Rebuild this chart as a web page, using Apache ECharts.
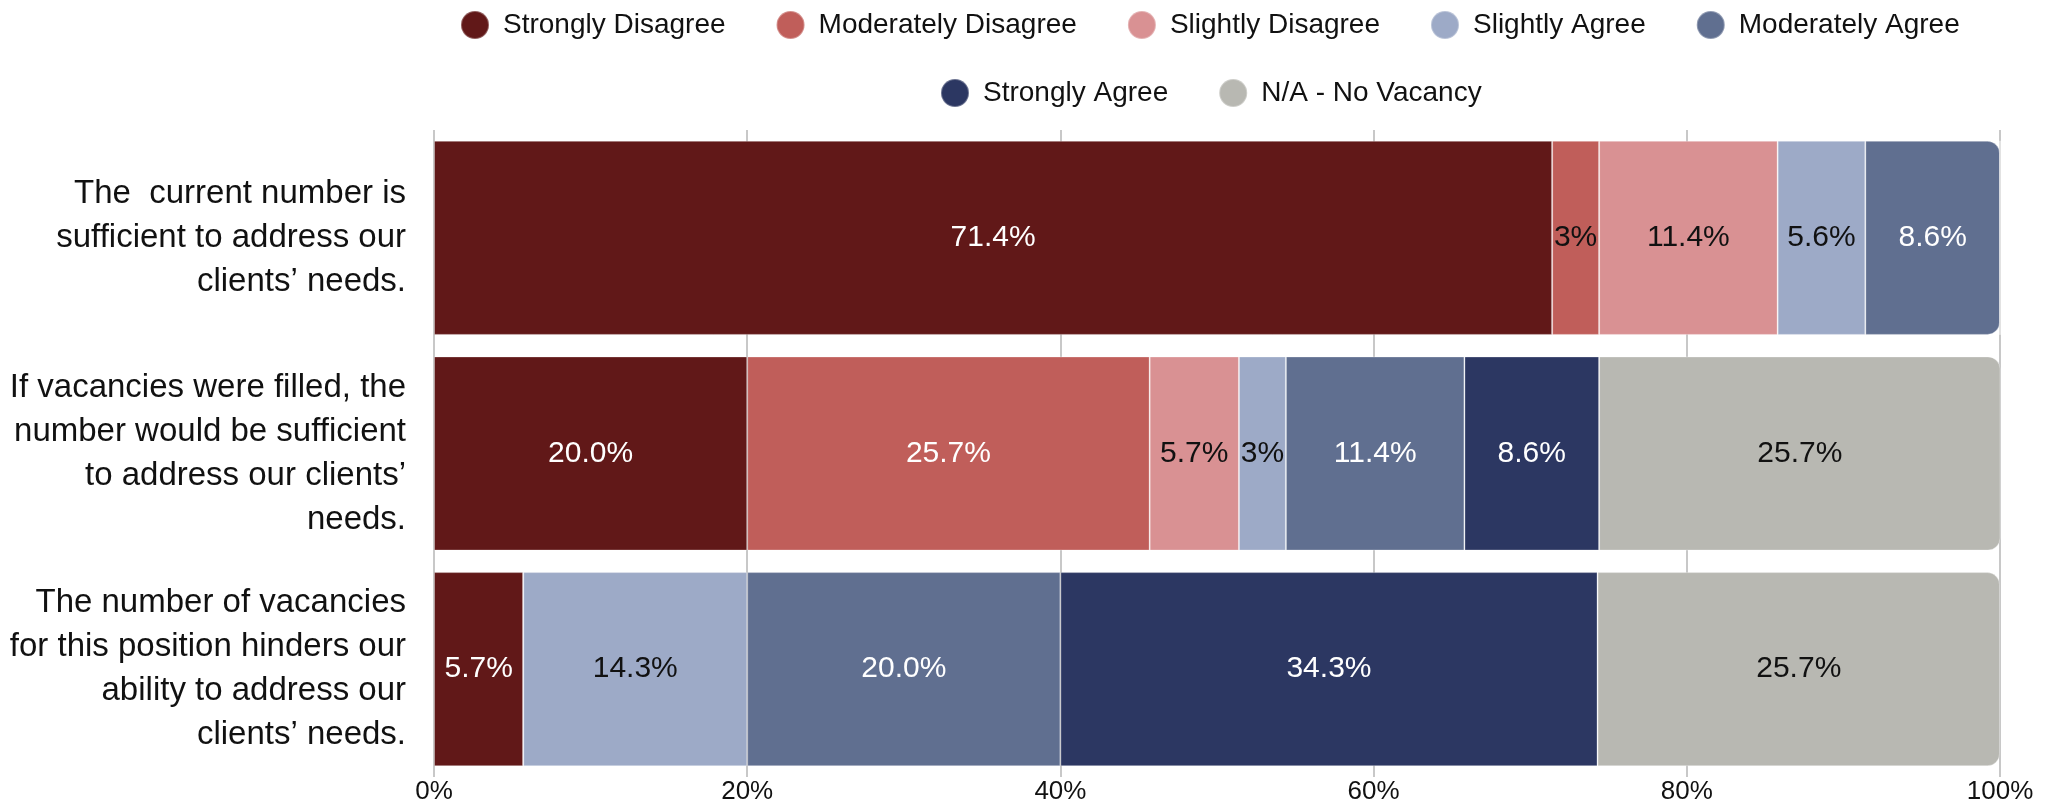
<!DOCTYPE html>
<html><head><meta charset="utf-8">
<script src="https://cdn.jsdelivr.net/npm/echarts@6/dist/echarts.min.js"></script>
<style>html,body{margin:0;padding:0;background:#fff}#c{width:2047px;height:806px}</style>
</head><body><div id="c"></div>
<script>
// ---- data ----
const categories = [
  'The  current number is\nsufficient to address our\nclients’ needs.',
  'If vacancies were filled, the\nnumber would be sufficient\nto address our clients’\nneeds.',
  'The number of vacancies\nfor this position hinders our\nability to address our\nclients’ needs.'
];
const seriesNames = ['Strongly Disagree','Moderately Disagree','Slightly Disagree','Slightly Agree','Moderately Agree','Strongly Agree','N/A - No Vacancy'];
const stronglyDisagree   = ['71.4', '20.0', '5.7'];
const moderatelyDisagree = ['3',    '25.7', '0'];
const slightlyDisagree   = ['11.4', '5.7',  '0'];
const slightlyAgree      = ['5.6',  '3',    '14.3'];
const moderatelyAgree    = ['8.6',  '11.4', '20.0'];
const stronglyAgree      = ['0',    '8.6',  '34.3'];
const naNoVacancy        = ['0',    '25.7', '25.7'];
const xTicks = [0, 20, 40, 60, 80, 100];

// ---- styles ----
const allValues = [stronglyDisagree, moderatelyDisagree, slightlyDisagree, slightlyAgree, moderatelyAgree, stronglyAgree, naNoVacancy];
const colors = ['#611818','#c05e5a','#d99193','#9daac7','#606f90','#2c3762','#b8b8b2'];
const labelColors = ['#ffffff','#ffffff','#111111','#111111','#ffffff','#ffffff','#111111'];
const labelOverrides = { '1-0': '#111111' }; // narrow segment label drawn dark
const font = '"Liberation Sans", Arial, Helvetica, sans-serif';
const radius = 12;

// find last non-zero segment per category for rounded end
const lastIdx = categories.map((_, ci) => {
  let last = 0;
  allValues.forEach((arr, si) => { if (Number(arr[ci]) > 0) last = si; });
  return last;
});

const series = allValues.map((arr, si) => ({
  name: seriesNames[si],
  type: 'bar',
  stack: 'total',
  barCategoryGap: '10%',
  itemStyle: { color: colors[si], borderColor: 'rgba(255,255,255,0.3)', borderWidth: 1 },
  label: {
    show: true, position: 'inside', fontFamily: font, fontSize: 30, color: labelColors[si],
    formatter: p => Number(p.data.value) > 0 ? p.data.value + '%' : ''
  },
  emphasis: { disabled: true },
  data: arr.map((v, ci) => {
    const item = { value: v };
    if (lastIdx[ci] === si) item.itemStyle = { borderRadius: [0, radius, radius, 0] };
    const ov = labelOverrides[si + '-' + ci];
    if (ov) item.label = { color: ov };
    return item;
  })
}));

const legendText = { fontFamily: font, fontSize: 28, color: '#111', padding: [0, 0, 0, 9] };
const option = {
  animation: false,
  backgroundColor: '#fff',
  legend: [
    { data: seriesNames.slice(0, 5), left: 455, top: 5, icon: 'circle', itemWidth: 28, itemHeight: 28, itemGap: 50, textStyle: legendText },
    { data: seriesNames.slice(5), left: 935, top: 73, icon: 'circle', itemWidth: 28, itemHeight: 28, itemGap: 50, textStyle: legendText }
  ],
  grid: { left: 434, right: 47, top: 130, bottom: 29, containLabel: false },
  xAxis: {
    type: 'value', min: xTicks[0], max: xTicks[xTicks.length - 1], interval: xTicks[1] - xTicks[0],
    axisLine: { show: false }, axisTick: { show: false },
    axisLabel: { formatter: '{value}%', fontFamily: font, fontSize: 26, color: '#111', margin: 2 },
    splitLine: { show: true, lineStyle: { color: '#c8c8c8', width: 2 } }
  },
  yAxis: {
    type: 'category', inverse: true, data: categories,
    axisLine: { show: false }, axisTick: { show: false },
    axisLabel: { fontFamily: font, fontSize: 33, lineHeight: 44, color: '#111', align: 'right', margin: 28 }
  },
  series
};
const chart = echarts.init(document.getElementById('c'), null, { renderer: 'canvas' });
chart.setOption(option);
</script>
</body></html>
